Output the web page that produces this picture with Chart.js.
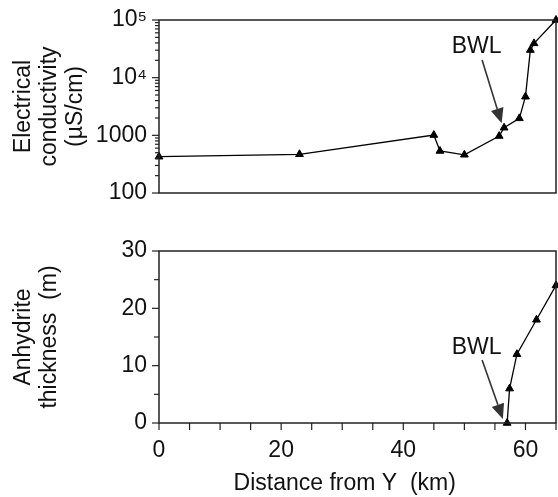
<!DOCTYPE html>
<html><head><meta charset="utf-8">
<script src="https://cdn.jsdelivr.net/npm/chart.js@4"></script>
<style>
html,body{margin:0;padding:0;background:#fff;}
#c1{position:absolute;left:0;top:0}
#c2{position:absolute;left:0;top:220px}
</style>
</head><body>
<canvas id="c1" width="558" height="220"></canvas>
<canvas id="c2" width="558" height="277"></canvas>
<script>
// ---- data ----
const distanceEC   = [0, 23, 45, 46, 50, 55.7, 56.5, 59, 60, 60.8, 61.4, 65];
const conductivity = [426, 469, 1010, 535, 460, 972, 1355, 1970, 4670, 30100, 39300, 100000];
const distanceAnh  = [57, 57.4, 58.6, 61.8, 65];
const anhydrite    = [0, 6, 12, 18, 24];

// ---- tick labels ----
const ecMajorTicks   = [100, 1000, 10000, 100000];
const ecTickLabels   = ['100', '1000', '10⁴', '10⁵'];
const thickMajorTicks = [0, 10, 20, 30];
const thickTickLabels = ['0', '10', '20', '30'];
const distMajorTicks = [0, 20, 40, 60];
const distTickLabels = ['0', '20', '40', '60'];

// BWL annotations (data units)
const bwlTop = {text: 'BWL', at: [52, 33900], from: [52.9, 20200], to: [56.1, 1615]};
const bwlBottom = {text: 'BWL', at: [52, 13.1], from: [52.9, 11.0], to: [56.3, 0.7]};

const FONT = "'Liberation Sans', Arial, sans-serif";
const TXT = '#111';

// all log ticks 100..100000
const ecAllTicks = [];
for (let e = 2; e < 5; e++) for (let m = 1; m < 10; m++) ecAllTicks.push(m * Math.pow(10, e));
ecAllTicks.push(100000);
const stepTicks = (min, max, step) => { const t = []; for (let v = min; v <= max + 1e-9; v += step) t.push(v); return t; };

// invisible tick marks used only to offset the labels
const hiddenGrid = (len) => ({display: true, drawOnChartArea: false, drawTicks: true, tickLength: len, tickColor: 'rgba(0,0,0,0)'});

function framePlugin(tickSpec) {
  return {
    id: 'frameTicks',
    afterDraw(chart) {
      const {ctx, chartArea: a} = chart;
      ctx.save();
      ctx.strokeStyle = '#222';
      ctx.lineWidth = 1.5;
      ctx.strokeRect(a.left, a.top, a.right - a.left, a.bottom - a.top);
      ctx.lineWidth = 1.2;
      tickSpec.forEach(spec => {
        const s = chart.scales[spec.id];
        s.ticks.forEach(t => {
          const p = s.getPixelForValue(t.value);
          const len = spec.majors.includes(t.value) ? spec.major : spec.minor;
          ctx.beginPath();
          if (spec.id === 'y') { ctx.moveTo(a.left, p); ctx.lineTo(a.left - len, p); }
          else { ctx.moveTo(p, a.bottom); ctx.lineTo(p, a.bottom + len); }
          ctx.stroke();
        });
      });
      ctx.restore();
    }
  };
}

function bwlPlugin(ann) {
  return {
    id: 'bwl',
    afterDatasetsDraw(chart) {
      const {ctx, scales: {x, y}} = chart;
      const x1 = x.getPixelForValue(ann.from[0]), y1 = y.getPixelForValue(ann.from[1]);
      const x2 = x.getPixelForValue(ann.to[0]), y2 = y.getPixelForValue(ann.to[1]);
      const ang = Math.atan2(y2 - y1, x2 - x1);
      const hl = 15, hw = 6.5;
      ctx.save();
      ctx.strokeStyle = '#333'; ctx.fillStyle = '#333'; ctx.lineWidth = 1.6;
      ctx.beginPath();
      ctx.moveTo(x1, y1);
      ctx.lineTo(x2 - hl * Math.cos(ang), y2 - hl * Math.sin(ang));
      ctx.stroke();
      ctx.beginPath();
      ctx.moveTo(x2, y2);
      const bx = x2 - hl * Math.cos(ang), by = y2 - hl * Math.sin(ang);
      ctx.lineTo(bx + hw * Math.sin(ang), by - hw * Math.cos(ang));
      ctx.lineTo(bx - hw * Math.sin(ang), by + hw * Math.cos(ang));
      ctx.closePath();
      ctx.fill();
      ctx.fillStyle = TXT;
      ctx.font = '23px ' + FONT;
      ctx.textAlign = 'center'; ctx.textBaseline = 'middle';
      ctx.fillText(ann.text, x.getPixelForValue(ann.at[0]), y.getPixelForValue(ann.at[1]));
      ctx.restore();
    }
  };
}

const lineStyle = {
  showLine: true, borderColor: '#000', borderWidth: 1.3,
  pointStyle: 'triangle', pointRadius: 4.5, pointBackgroundColor: '#000',
  pointBorderColor: '#000', pointBorderWidth: 1, clip: false
};

new Chart(document.getElementById('c1'), {
  type: 'scatter',
  data: { datasets: [Object.assign({ data: distanceEC.map((d, i) => ({x: d, y: conductivity[i]})) }, lineStyle)] },
  options: {
    responsive: false, animation: false, devicePixelRatio: 1,
    layout: { autoPadding: false, padding: {top: 20, bottom: 27, right: 2, left: 0} },
    plugins: { legend: {display: false}, tooltip: {enabled: false} },
    scales: {
      x: { type: 'linear', min: 0, max: 65, display: false },
      y: {
        type: 'logarithmic', min: 100, max: 100000,
        afterBuildTicks: s => { s.ticks = ecAllTicks.map(v => ({value: v})); },
        afterFit: s => { s.width = 159; },
        grid: hiddenGrid(10), border: {display: false},
        ticks: {
          autoSkip: false, padding: 2, color: TXT, font: {family: FONT, size: 23},
          callback: v => { const i = ecMajorTicks.indexOf(v); return i >= 0 ? ecTickLabels[i] : ''; }
        },
        title: {
          display: true, text: ['Electrical', 'conductivity', '(µS/cm)'], color: TXT,
          font: {family: FONT, size: 23, lineHeight: 1.15}, padding: {top: 10, bottom: 0}
        }
      }
    }
  },
  plugins: [framePlugin([{id: 'y', majors: ecMajorTicks, major: 7, minor: 4}]), bwlPlugin(bwlTop)]
});

new Chart(document.getElementById('c2'), {
  type: 'scatter',
  data: { datasets: [Object.assign({ data: distanceAnh.map((d, i) => ({x: d, y: anhydrite[i]})) }, lineStyle)] },
  options: {
    responsive: false, animation: false, devicePixelRatio: 1,
    layout: { autoPadding: false, padding: {top: 31, bottom: 0, right: 2, left: 0} },
    plugins: { legend: {display: false}, tooltip: {enabled: false} },
    scales: {
      x: {
        type: 'linear', min: 0, max: 65,
        afterBuildTicks: s => { s.ticks = stepTicks(0, 65, 5).map(v => ({value: v})); },
        afterFit: s => { s.height = 74; },
        grid: hiddenGrid(12), border: {display: false},
        ticks: {
          autoSkip: false, maxRotation: 0, padding: 2, color: TXT, font: {family: FONT, size: 23},
          callback: v => { const i = distMajorTicks.indexOf(v); return i >= 0 ? distTickLabels[i] : ''; }
        },
        title: {
          display: true, text: 'Distance from Y  (km)    ', color: TXT,
          font: {family: FONT, size: 23, lineHeight: 1.15}, padding: {top: 0, bottom: 0}
        }
      },
      y: {
        type: 'linear', min: 0, max: 30,
        afterBuildTicks: s => { s.ticks = stepTicks(0, 30, 5).map(v => ({value: v})); },
        afterFit: s => { s.width = 159; },
        grid: hiddenGrid(10), border: {display: false},
        ticks: {
          autoSkip: false, padding: 2, color: TXT, font: {family: FONT, size: 23},
          callback: v => { const i = thickMajorTicks.indexOf(v); return i >= 0 ? thickTickLabels[i] : ''; }
        },
        title: {
          display: true, text: ['Anhydrite', 'thickness  (m)'], color: TXT,
          font: {family: FONT, size: 23, lineHeight: 1.15}, padding: {top: 10, bottom: 0}
        }
      }
    }
  },
  plugins: [framePlugin([{id: 'y', majors: thickMajorTicks, major: 7, minor: 5}, {id: 'x', majors: stepTicks(0, 65, 5), major: 7, minor: 7}]), bwlPlugin(bwlBottom)]
});
</script>
</body></html>
